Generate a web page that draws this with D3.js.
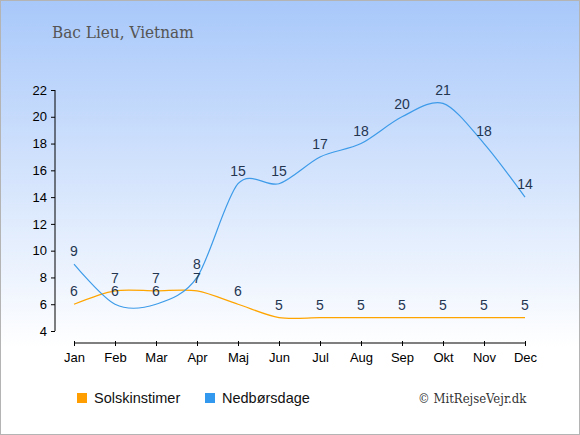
<!DOCTYPE html>
<html><head><meta charset="utf-8">
<script src="https://cdn.jsdelivr.net/npm/d3@7"></script>
<style>body{margin:0;padding:0;}svg{display:block;}</style>
</head><body>
<svg id="c" width="580" height="435"></svg>
<script>
const months = ["Jan","Feb","Mar","Apr","Maj","Jun","Jul","Aug","Sep","Okt","Nov","Dec"];
const sunHours = [6,7,7,7,6,5,5,5,5,5,5,5];
const rainDays = [9,6,6,8,15,15,17,18,20,21,18,14];
const yTicks = [4,6,8,10,12,14,16,18,20,22];
const title = "Bac Lieu, Vietnam";
const seriesNames = ["Solskinstimer","Nedbørsdage"];
const credit = "© MitRejseVejr.dk";

const svg = d3.select("#c");
const W = 580, H = 435;
const serif = "'DejaVu Serif Condensed', 'DejaVu Serif', serif";
const sans = "'Liberation Sans', Arial, sans-serif";
const defs = svg.append("defs");
const g = defs.append("linearGradient").attr("id","bg").attr("x1",0).attr("y1",0).attr("x2",0).attr("y2",1);
g.append("stop").attr("offset","0").attr("stop-color","#a8c8fa");
g.append("stop").attr("offset","0.8").attr("stop-color","#ffffff");
g.append("stop").attr("offset","1").attr("stop-color","#ffffff");
svg.append("rect").attr("x",0.5).attr("y",0.5).attr("width",W-1).attr("height",H-1)
  .attr("fill","url(#bg)").attr("stroke","#b4b4b4").attr("stroke-width",1);

const x = d3.scalePoint().domain(months).range([74,525]);
const y = d3.scaleLinear().domain([4,22]).range([331,90]);

svg.append("text").attr("x",52).attr("y",38).text(title)
  .attr("font-family",serif).attr("font-stretch","condensed").attr("font-size",17).attr("fill","#555");

// y axis
const ya = svg.append("g").attr("transform","translate(55,0)")
  .call(d3.axisLeft(y).tickValues(yTicks).tickSize(4).tickPadding(4).tickFormat(d3.format("d")));
ya.select(".domain").attr("stroke","#000").attr("d","M0,"+y(4)+"V"+y(22));
ya.selectAll("line").attr("stroke","#000");
ya.selectAll("text").attr("font-family",sans).attr("font-size",13).attr("fill","#000");

// x axis
const xa = svg.append("g").attr("transform","translate(0,343)")
  .call(d3.axisBottom(x).tickSize(3).tickPadding(7));
xa.select(".domain").attr("stroke","#000").attr("d","M"+x(months[0])+",0H"+x(months[11]));
xa.selectAll(".tick line").attr("y1",-2).attr("y2",3).attr("stroke","#000");
xa.selectAll("text").attr("font-family",sans).attr("font-size",13).attr("fill","#000");

const line = d3.line().x((d,i)=>x(months[i])).y(d=>y(d)).curve(d3.curveCardinal.tension(0.1));

svg.append("path").datum(sunHours).attr("d",line).attr("fill","none").attr("stroke","#ffa500").attr("stroke-width",1.2);
svg.append("path").datum(rainDays).attr("d",line).attr("fill","none").attr("stroke","#3d9be9").attr("stroke-width",1.2);

function labels(data){
  svg.append("g").selectAll("text").data(data).join("text")
    .attr("x",(d,i)=>x(months[i])).attr("y",d=>y(d)-8)
    .attr("text-anchor","middle")
    .attr("font-family",sans).attr("font-size",14)
    .attr("fill","#243550").text(d=>d);
}
labels(sunHours);
labels(rainDays);

// legend
const leg = [{name:seriesNames[0],color:"#ff9e00",x:77},{name:seriesNames[1],color:"#3399ee",x:205}];
leg.forEach(l=>{
  svg.append("rect").attr("x",l.x).attr("y",393).attr("width",10).attr("height",10).attr("fill",l.color);
  svg.append("text").attr("x",l.x+17).attr("y",403).text(l.name)
    .attr("font-family",sans).attr("font-size",14.5).attr("fill","#111");
});
svg.append("text").attr("x",418).attr("y",403).text(credit)
  .attr("font-family",serif).attr("font-stretch","condensed").attr("font-size",13).attr("fill","#333");
</script>
</body></html>
